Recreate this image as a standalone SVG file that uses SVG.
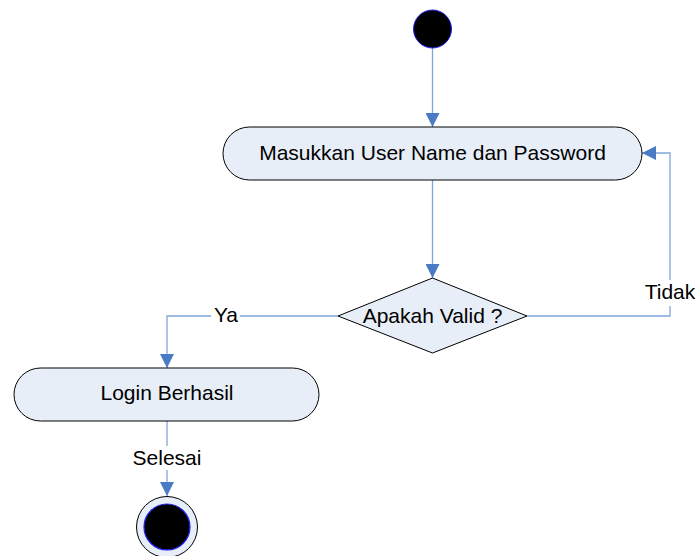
<svg xmlns="http://www.w3.org/2000/svg" width="699" height="556" viewBox="0 0 699 556">
<defs>
<style>
.node{fill:#E8EEF8;stroke:#000;stroke-width:1}
.lbl{font-family:"Liberation Sans",Arial,sans-serif;font-size:21px;fill:#000;text-anchor:middle}
.edge{fill:none;stroke:#7FA5DB;stroke-width:1.3}
</style>
<marker id="arr" viewBox="0 0 14 14" refX="14" refY="7" markerWidth="14" markerHeight="14" markerUnits="userSpaceOnUse" orient="auto">
<path d="M0,0 L14,7 L0,14 Z" fill="#4A7BC4"/>
</marker>
</defs>
<rect width="699" height="556" fill="#fff"/>
<g id="connectors">
<path class="edge" d="M432.5,48 V127" marker-end="url(#arr)"/>
<path class="edge" d="M432.5,180 V278" marker-end="url(#arr)"/>
<path class="edge" d="M527,316 H670 V153 H642" marker-end="url(#arr)"/>
<path class="edge" d="M338,316 H167 V368" marker-end="url(#arr)"/>
<path class="edge" d="M167,421 V496" marker-end="url(#arr)"/>
<rect x="641" y="280" width="58" height="26" fill="#fff"/>
<text class="lbl" x="670" y="299">Tidak</text>
<rect x="211" y="303" width="29" height="24" fill="#fff"/>
<text class="lbl" x="226" y="322">Ya</text>
<rect x="128" y="446" width="78" height="24" fill="#fff"/>
<text class="lbl" x="167" y="465">Selesai</text>
</g>
<g id="start">
<circle cx="432.5" cy="29" r="19" fill="#000" stroke="#2020FF" stroke-width="1"/>
</g>
<g id="masukkan">
<rect class="node" x="223" y="127" width="419" height="53" rx="26.5"/>
<text class="lbl" x="432.5" y="160">Masukkan User Name dan Password</text>
</g>
<g id="decision">
<polygon class="node" points="432.5,278 527,316 432.5,353 338,316"/>
<text class="lbl" x="432.5" y="323">Apakah Valid ?</text>
</g>
<g id="login">
<rect class="node" x="14" y="368" width="305" height="53" rx="26.5"/>
<text class="lbl" x="167" y="400">Login Berhasil</text>
</g>
<g id="end">
<circle cx="167" cy="527" r="30.5" fill="#E8EEF8" stroke="#000" stroke-width="1"/>
<circle cx="167" cy="527" r="23" fill="#000" stroke="#2020FF" stroke-width="1.2"/>
</g>
</svg>
